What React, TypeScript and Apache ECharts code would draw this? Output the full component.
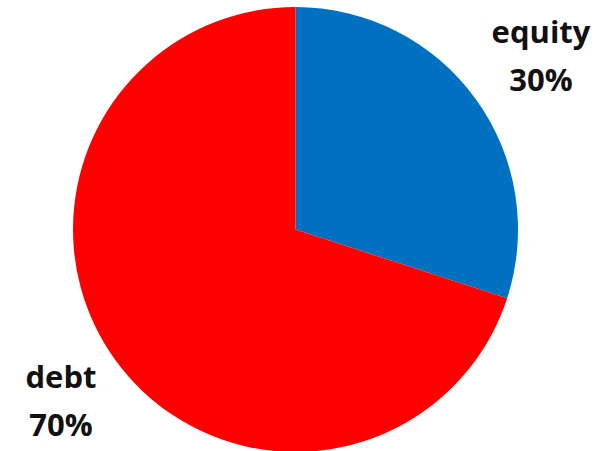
import React, { useEffect, useRef } from "react";
import * as echarts from "echarts";

const categories = ["equity", "debt"];
const shares = [30, 70];
const colors = ["#0070C0", "#FF0000"];

export default function App() {
  const ref = useRef<HTMLDivElement>(null);
  useEffect(() => {
    document.body.style.margin = "0";
    const chart = echarts.init(ref.current!, null, { renderer: "svg" });
    chart.setOption({
      animation: false,
      backgroundColor: "#ffffff",
      series: [
        {
          type: "pie",
          center: [295.5, 229.5],
          radius: 222.5,
          startAngle: 90,
          clockwise: true,
          data: categories.map((c, i) => ({
            name: c,
            value: shares[i],
            itemStyle: { color: colors[i] },
          })),
          label: {
            show: true,
            position: "outside",
            formatter: "{b}\n{d}%",
            fontFamily: "Open Sans",
            fontWeight: "bold",
            fontSize: 31,
            lineHeight: 48,
            color: "#111111",
            align: "center",
            overflow: "none",
          },
          labelLine: { show: false },
          labelLayout: (p: any) =>
            p.dataIndex === 0
              ? { x: 541, y: 55, align: "center", verticalAlign: "middle", width: 200 }
              : { x: 61, y: 400, align: "center", verticalAlign: "middle", width: 200 },
        },
      ],
    });
    return () => chart.dispose();
  }, []);
  return <div ref={ref} style={{ width: 610, height: 451 }} />;
}
